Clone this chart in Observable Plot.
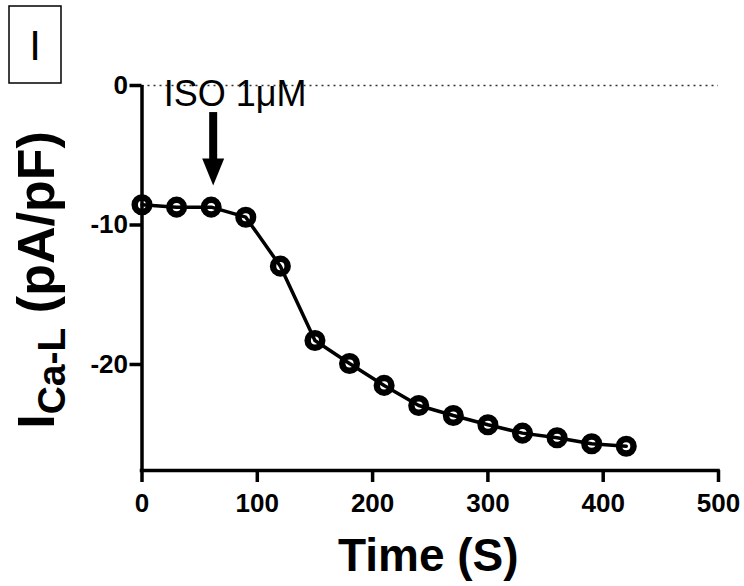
<!DOCTYPE html>
<html>
<head>
<meta charset="utf-8">
<script src="https://cdn.jsdelivr.net/npm/d3@7"></script>
<script src="https://cdn.jsdelivr.net/npm/@observablehq/plot@0.6"></script>
<style>
  body { margin: 0; background: #fff; }
  #chart svg { display: block; }
</style>
</head>
<body>
<div id="chart"></div>
<script>
// ---- data ----
const times   = [0, 30, 60, 90, 120, 150, 180, 210, 240, 270, 300, 330, 360, 390, 420];
const current = [-8.55, -8.72, -8.72, -9.44, -12.95, -18.28, -19.93, -21.5, -22.94, -23.66, -24.32, -24.92, -25.25, -25.68, -25.86];
const xTicks  = [0, 100, 200, 300, 400, 500];
const yTicks  = [0, -10, -20];
const xDomain = [0, 500];
const yDomain = [-27.6, 0];
const xLabel = "Time (S)";
const yLabelMain = "I";
const yLabelSub = "Ca-L";
const yLabelUnit = " (pA/pF)";
const panelLabel = "I";
const annotationText = "ISO 1\u03BCM";
const arrowX = 60;
const arrowTop = -1.94;
const arrowShaftEnd = -5.6;
const arrowTip = -7.17;

const font = "'Liberation Sans', Arial, Helvetica, sans-serif";

const arrowHead = {
  draw(context) {
    context.moveTo(0, 0);
    context.lineTo(-11, -27);
    context.lineTo(11, -27);
    context.closePath();
  }
};

const chart = Plot.plot({
  width: 744,
  height: 586,
  marginLeft: 141.5,
  marginRight: 26,
  marginTop: 85,
  marginBottom: 116,
  style: { fontFamily: font, color: "#000", background: "#fff", overflow: "visible" },
  x: { domain: xDomain },
  y: { domain: yDomain },
  marks: [
    Plot.ruleY([0], { x1: xDomain[0], x2: xDomain[1], stroke: "#333", strokeWidth: 1.6, strokeDasharray: "2,4" }),
    Plot.text([{ label: annotationText, x: arrowX, y: 0 }], {
      x: "x", y: "y", text: "label", dx: 24, dy: 20, lineAnchor: "bottom", textAnchor: "middle",
      fontSize: 36, fill: "#000"
    }),
    Plot.ruleX([arrowX], { y1: arrowTop, y2: arrowShaftEnd, strokeWidth: 8, dx: 2 }),
    Plot.dot([arrowX], { x: d => d, y: () => arrowTip, symbol: arrowHead, r: 10, fill: "#000", stroke: "none", dx: 2 }),
    Plot.axisX(xTicks, { label: null, tickSize: 12, tickPadding: 11.5, fontSize: 26, fontWeight: "bold", strokeWidth: 3.5, tickFormat: d => String(d) }),
    Plot.axisY(yTicks, { label: null, tickSize: 12, tickPadding: 2, fontSize: 26, fontWeight: "bold", strokeWidth: 3.5, tickFormat: d => String(d) }),
    Plot.ruleY([yDomain[0]], { x1: xDomain[0], x2: xDomain[1], strokeWidth: 3.5, strokeLinecap: "square" }),
    Plot.ruleX([xDomain[0]], { y1: yDomain[0], y2: yDomain[1], strokeWidth: 3.5 }),
    Plot.line(times, { x: times, y: current, stroke: "#000", strokeWidth: 3.5 }),
    Plot.dot(times, { x: times, y: current, r: 7.3, stroke: "#000", strokeWidth: 6.5, fill: "none" }),
    Plot.text([xLabel], { frameAnchor: "bottom", dy: 100, dx: -2, lineAnchor: "bottom", fontSize: 46, fontWeight: "bold", fill: "#000" })
  ]
});

const svg = d3.select(chart);

// y axis label with subscript
const yl = svg.append("text")
  .attr("transform", "translate(54,280) rotate(-90)")
  .attr("text-anchor", "middle")
  .attr("font-family", font)
  .attr("font-weight", "bold")
  .attr("font-size", 52)
  .attr("fill", "#000");
yl.append("tspan").text(yLabelMain);
yl.append("tspan").attr("font-size", 39).attr("dy", 11).text(yLabelSub);
yl.append("tspan").attr("font-size", 52).attr("dy", -11).text(yLabelUnit);

// panel label box
svg.append("rect")
  .attr("x", 9).attr("y", 6).attr("width", 52).attr("height", 77)
  .attr("fill", "none").attr("stroke", "#000").attr("stroke-width", 1.5);
svg.append("text")
  .attr("x", 35).attr("y", 60)
  .attr("text-anchor", "middle")
  .attr("font-family", font)
  .attr("font-size", 42)
  .attr("fill", "#000")
  .text(panelLabel);

document.getElementById("chart").appendChild(chart);
</script>
</body>
</html>
